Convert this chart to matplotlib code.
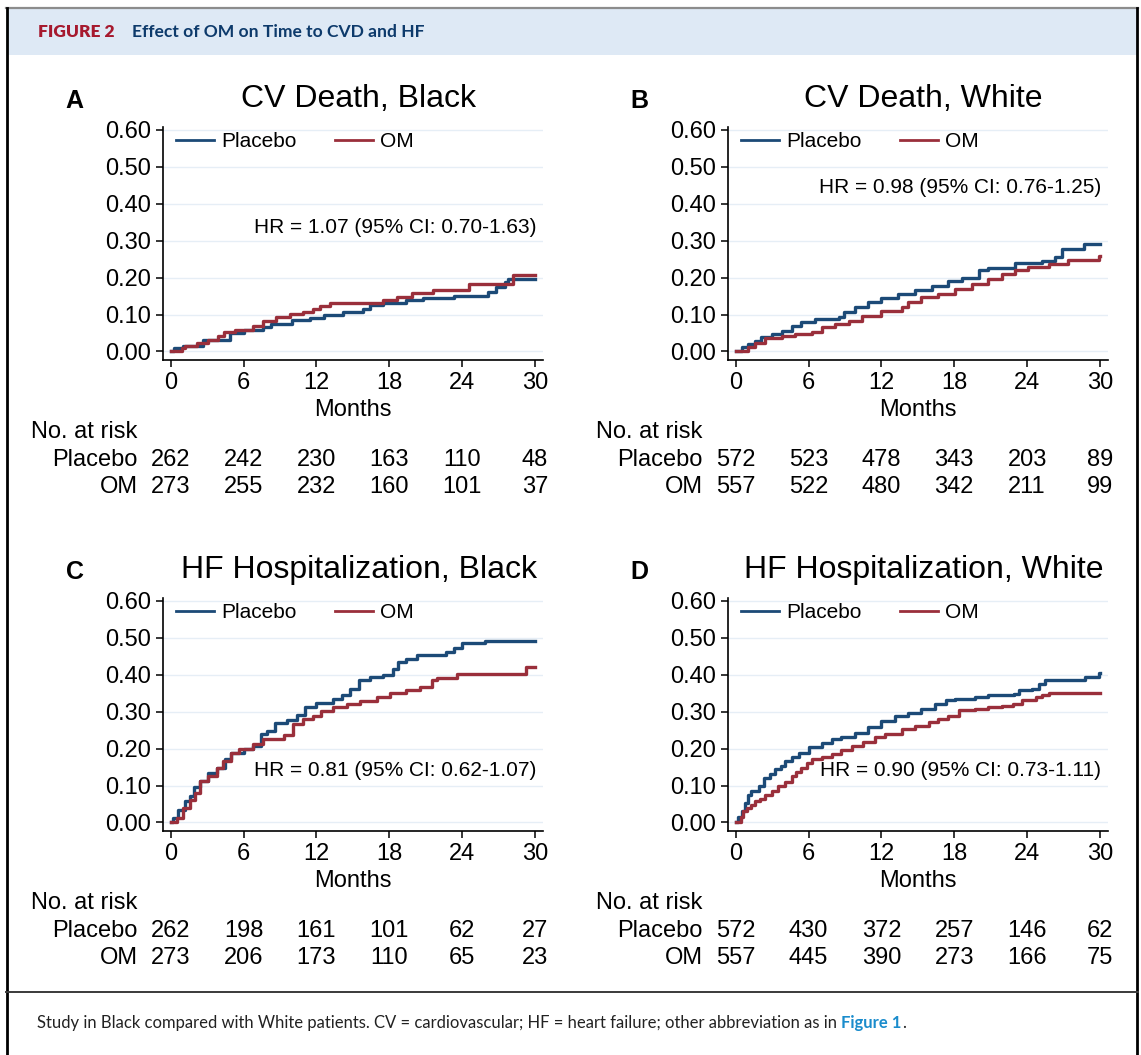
import matplotlib
matplotlib.use("Agg")
import matplotlib.pyplot as plt
from matplotlib.lines import Line2D
from matplotlib.patches import Rectangle

plt.rcParams['font.family'] = ['Liberation Sans', 'DejaVu Sans']

# Kaplan-Meier step curves: (month, cumulative incidence)
a_pla_m = [0, 0.3, 1.0, 2.7, 4.9, 6.0, 7.6, 8.3, 10.0, 11.5, 12.6, 14.2, 15.8, 16.4, 17.5, 19.4, 20.8, 23.3, 26.1, 26.8, 27.5, 27.8, 30.0]
a_pla_v = [0, 0.010, 0.015, 0.030, 0.050, 0.057, 0.065, 0.073, 0.086, 0.090, 0.100, 0.108, 0.116, 0.127, 0.130, 0.138, 0.144, 0.150, 0.160, 0.174, 0.187, 0.196, 0.196]
a_om_m = [0, 0.9, 1.2, 2.2, 3.1, 3.9, 4.4, 5.3, 6.8, 7.6, 8.7, 9.8, 10.9, 11.7, 12.3, 13.1, 15.6, 17.5, 18.6, 19.9, 21.6, 24.6, 28.2, 30.0]
a_om_v = [0, 0.009, 0.016, 0.022, 0.032, 0.043, 0.052, 0.059, 0.070, 0.082, 0.093, 0.102, 0.108, 0.116, 0.124, 0.130, 0.132, 0.140, 0.148, 0.157, 0.165, 0.183, 0.208, 0.208]

b_pla_m = [0, 0.5, 1.0, 1.6, 2.1, 3.0, 3.8, 4.6, 5.4, 6.5, 8.5, 8.9, 9.8, 10.9, 12.0, 13.4, 14.8, 16.2, 17.5, 18.6, 20.0, 20.8, 23.0, 25.2, 26.3, 26.9, 28.7, 30.0]
b_pla_v = [0, 0.011, 0.020, 0.029, 0.038, 0.047, 0.056, 0.070, 0.079, 0.088, 0.092, 0.106, 0.119, 0.133, 0.145, 0.155, 0.166, 0.178, 0.190, 0.198, 0.219, 0.225, 0.239, 0.246, 0.255, 0.277, 0.291, 0.291]
b_om_m = [0, 1.0, 1.6, 2.4, 3.8, 4.9, 6.3, 7.1, 8.2, 9.3, 10.4, 12.0, 13.7, 14.2, 15.3, 16.7, 18.1, 19.5, 20.8, 21.9, 23.0, 24.1, 25.8, 27.4, 29.9, 30.0]
b_om_v = [0, 0.011, 0.024, 0.036, 0.041, 0.047, 0.054, 0.065, 0.074, 0.083, 0.097, 0.110, 0.119, 0.133, 0.146, 0.155, 0.169, 0.182, 0.196, 0.210, 0.219, 0.229, 0.237, 0.248, 0.257, 0.257]

c_pla_m = [0, 0.2, 0.6, 1.2, 1.6, 1.9, 2.4, 3.1, 3.8, 4.5, 5.0, 6.0, 6.8, 7.4, 7.9, 8.6, 9.6, 10.4, 11.1, 12.0, 13.4, 14.1, 14.8, 15.5, 16.4, 17.5, 18.3, 18.7, 19.4, 20.3, 22.7, 23.3, 24.0, 25.9, 30.0]
c_pla_v = [0, 0.012, 0.034, 0.057, 0.071, 0.096, 0.112, 0.134, 0.148, 0.171, 0.187, 0.198, 0.207, 0.239, 0.248, 0.270, 0.278, 0.291, 0.311, 0.323, 0.334, 0.345, 0.361, 0.384, 0.393, 0.399, 0.416, 0.434, 0.443, 0.452, 0.461, 0.472, 0.484, 0.491, 0.491]
c_om_m = [0, 0.5, 1.0, 1.6, 2.0, 2.4, 3.1, 3.8, 4.3, 5.0, 5.6, 6.8, 7.6, 9.3, 10.1, 10.9, 11.7, 12.4, 13.4, 14.5, 15.6, 17.0, 18.1, 19.4, 20.5, 21.5, 21.9, 23.6, 29.3, 30.0]
c_om_v = [0, 0.012, 0.039, 0.062, 0.080, 0.112, 0.125, 0.148, 0.166, 0.187, 0.200, 0.211, 0.225, 0.236, 0.266, 0.279, 0.289, 0.302, 0.311, 0.320, 0.329, 0.338, 0.350, 0.357, 0.366, 0.384, 0.390, 0.401, 0.420, 0.420]

d_pla_m = [0, 0.2, 0.5, 0.8, 1.0, 1.3, 1.9, 2.3, 2.8, 3.2, 3.7, 4.1, 4.6, 5.2, 6.0, 7.1, 7.9, 8.7, 9.8, 10.9, 12.0, 13.1, 14.2, 15.3, 16.4, 17.3, 18.1, 19.7, 20.8, 22.9, 23.3, 24.4, 25.0, 25.5, 28.8, 29.9, 30.0]
d_pla_v = [0, 0.016, 0.030, 0.053, 0.075, 0.085, 0.098, 0.121, 0.130, 0.144, 0.153, 0.166, 0.178, 0.189, 0.205, 0.216, 0.225, 0.230, 0.242, 0.257, 0.275, 0.287, 0.296, 0.307, 0.321, 0.330, 0.335, 0.339, 0.344, 0.348, 0.357, 0.362, 0.375, 0.385, 0.394, 0.403, 0.403]
d_om_m = [0, 0.4, 0.6, 0.9, 1.3, 1.6, 2.0, 2.4, 3.0, 3.5, 4.1, 4.6, 5.0, 5.4, 5.9, 6.3, 7.1, 7.9, 8.7, 9.6, 10.5, 11.5, 12.3, 13.7, 14.8, 15.9, 16.7, 17.5, 18.4, 19.7, 20.8, 21.9, 22.8, 23.6, 24.7, 25.2, 25.8, 30.0]
d_om_v = [0, 0.016, 0.030, 0.039, 0.048, 0.057, 0.064, 0.075, 0.085, 0.098, 0.109, 0.125, 0.136, 0.148, 0.160, 0.171, 0.178, 0.185, 0.196, 0.207, 0.218, 0.230, 0.239, 0.253, 0.262, 0.271, 0.280, 0.289, 0.303, 0.307, 0.312, 0.316, 0.321, 0.330, 0.339, 0.345, 0.351, 0.351]

risk_months = [0, 6, 12, 18, 24, 30]
a_risk_pla = [262, 242, 230, 163, 110, 48]
a_risk_om = [273, 255, 232, 160, 101, 37]
b_risk_pla = [572, 523, 478, 343, 203, 89]
b_risk_om = [557, 522, 480, 342, 211, 99]
c_risk_pla = [262, 198, 161, 101, 62, 27]
c_risk_om = [273, 206, 173, 110, 65, 23]
d_risk_pla = [572, 430, 372, 257, 146, 62]
d_risk_om = [557, 445, 390, 273, 166, 75]

titles = ['CV Death, Black', 'CV Death, White', 'HF Hospitalization, Black', 'HF Hospitalization, White']
letters = ['A', 'B', 'C', 'D']
hr_text = ['HR = 1.07 (95% CI: 0.70-1.63)', 'HR = 0.98 (95% CI: 0.76-1.25)',
           'HR = 0.81 (95% CI: 0.62-1.07)', 'HR = 0.90 (95% CI: 0.73-1.11)']
hr_y = [0.336, 0.444, 0.14, 0.14]

BLUE = '#1c4a77'
RED = '#9a2f3b'
W, H = 1141, 1055
LATO = ['Lato', 'DejaVu Sans']

fig = plt.figure(figsize=(W / 100, H / 100), dpi=100)

# page furniture drawn in pixel coordinates
bg = fig.add_axes([0, 0, 1, 1], zorder=0)
bg.set_xlim(0, W)
bg.set_ylim(H, 0)
bg.axis('off')
bg.add_patch(Rectangle((7, 9), 1130, 46, facecolor='#dee9f5', edgecolor='none'))
bg.plot([6, 1138], [8, 8], color='#8c8c8c', lw=1.6)
bg.plot([6.5, 6.5], [8, H], color='black', lw=2.0)
bg.plot([1137, 1137], [8, H], color='black', lw=2.0)
bg.plot([6, 1138], [992, 992], color='#3a3a3a', lw=1.4)
bg.text(38, 32, 'FIGURE 2', family=LATO, fontweight='heavy',
        fontsize=12.5, color='#a6192e', va='center')
bg.text(132, 32, 'Effect of OM on Time to CVD and HF', family=LATO,
        fontweight='bold', fontsize=12.6, color='#0d3a6b', va='center')
cap = bg.text(37, 1023, 'Study in Black compared with White patients. CV = cardiovascular; '
              'HF = heart failure; other abbreviation as in ', family=LATO,
              fontsize=12, color='#222222', va='center')
fig1 = bg.annotate('Figure 1', xy=(1, 0.5), xycoords=cap, va='center', family=LATO,
                   fontsize=12, fontweight='bold', color='#1a8ccc')
bg.annotate('.', xy=(1, 0.5), xycoords=fig1, va='center', family=LATO,
            fontsize=12, color='#222222')

panels = [
    (a_pla_m, a_pla_v, a_om_m, a_om_v, a_risk_pla, a_risk_om),
    (b_pla_m, b_pla_v, b_om_m, b_om_v, b_risk_pla, b_risk_om),
    (c_pla_m, c_pla_v, c_om_m, c_om_v, c_risk_pla, c_risk_om),
    (d_pla_m, d_pla_v, d_om_m, d_om_v, d_risk_pla, d_risk_om),
]
lefts = [163, 728, 163, 728]
bottoms = [360, 360, 831, 831]
ax_w, ax_h = 380, 233

for i, (pm, pv, om, ov, rp, ro) in enumerate(panels):
    ax = fig.add_axes([lefts[i] / W, (H - bottoms[i]) / H, ax_w / W, ax_h / H], zorder=1)
    ax.set_facecolor('none')
    ax.step(pm, pv, where='post', color=BLUE, lw=2.4, zorder=3)
    ax.step(om, ov, where='post', color=RED, lw=2.4, zorder=4)

    ax.set_xlim(-0.63, 30.66)
    ax.set_ylim(-0.023, 0.607)
    ax.set_xticks(risk_months)
    ax.set_yticks([0, 0.1, 0.2, 0.3, 0.4, 0.5, 0.6])
    ax.set_yticklabels(['0.00', '0.10', '0.20', '0.30', '0.40', '0.50', '0.60'])
    ax.tick_params(labelsize=17, length=5, width=1.1, direction='out', colors='black')
    ax.yaxis.grid(True, color='#e6eef6', lw=1.0)
    ax.set_axisbelow(True)
    for s in ['top', 'right']:
        ax.spines[s].set_visible(False)
    for s in ['left', 'bottom']:
        ax.spines[s].set_linewidth(1.2)

    handles = [Line2D([], [], color=BLUE, lw=2.0), Line2D([], [], color=RED, lw=2.0)]
    ax.legend(handles, ['Placebo', 'OM'], loc='upper left', bbox_to_anchor=(0.035, 0.978),
              ncol=2, frameon=False, fontsize=15, handlelength=1.8, handletextpad=0.35,
              columnspacing=1.85, borderpad=0, borderaxespad=0)

    ax.text(30.1, hr_y[i], hr_text[i], ha='right', va='center', fontsize=15)
    ax.text(0.515, 1.086, titles[i], transform=ax.transAxes, ha='center', va='baseline', fontsize=23)
    ax.text(-0.232, 1.08, letters[i], transform=ax.transAxes, ha='center', va='baseline',
            fontsize=18, fontweight='bold')

    xt = ax.get_xaxis_transform()
    ax.text(15, -0.215, 'Months', transform=xt, ha='center', va='center', fontsize=17)
    ax.text(-11.5, -0.309, 'No. at risk', transform=xt, ha='left', va='center', fontsize=17)
    ax.text(-2.7, -0.43, 'Placebo', transform=xt, ha='right', va='center', fontsize=17)
    ax.text(-2.7, -0.545, 'OM', transform=xt, ha='right', va='center', fontsize=17)
    for m, n1, n2 in zip(risk_months, rp, ro):
        ax.text(m, -0.43, str(n1), transform=xt, ha='center', va='center', fontsize=17)
        ax.text(m, -0.545, str(n2), transform=xt, ha='center', va='center', fontsize=17)

fig.savefig('out.png', dpi=100)
